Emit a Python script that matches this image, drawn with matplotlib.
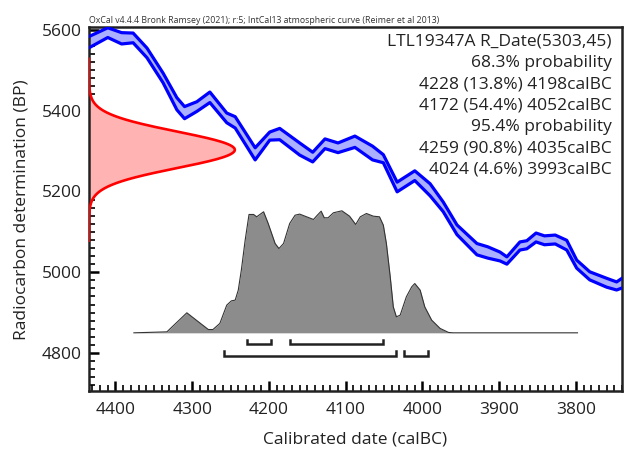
import numpy as np
import matplotlib
matplotlib.use("Agg")
import matplotlib.pyplot as plt
from matplotlib.ticker import MultipleLocator

plt.rcParams['font.family'] = ['Open Sans', 'DejaVu Sans']

# IntCal13 calibration curve (calBC, BP, 1 sigma)
curve_bc = [4435, 4410, 4392, 4377, 4359, 4338, 4320, 4310, 4294, 4277,
            4255, 4244, 4218, 4199, 4186, 4160, 4143, 4127, 4110, 4088,
            4065, 4051, 4033, 4010, 3990, 3973, 3955, 3929, 3915, 3899,
            3890, 3873, 3864, 3852, 3841, 3827, 3812, 3799, 3782, 3760,
            3747, 3740]
curve_bp = [5569, 5593, 5579, 5580, 5543, 5481, 5417, 5395, 5410, 5433,
            5382, 5371, 5293, 5337, 5342, 5305, 5285, 5318, 5308, 5323,
            5295, 5281, 5211, 5239, 5204, 5162, 5105, 5057, 5049, 5039,
            5029, 5065, 5068, 5086, 5079, 5081, 5067, 5020, 4991, 4974,
            4966, 4973]
curve_sig = [14, 12, 14, 12, 12, 12, 15, 15, 12, 13,
             12, 14, 15, 10, 14, 15, 12, 12, 12, 14,
             17, 10, 12, 12, 15, 12, 12, 14, 14, 11,
             9, 10, 10, 11, 11, 11, 12, 10, 10, 11,
             10, 12]

# radiocarbon measurement
r_name = "LTL19347A"
r_date = 5303
r_err = 45

# calibrated probability (relative to max)
prob_bc = [4376, 4333, 4307, 4279, 4273, 4264, 4255, 4249, 4244, 4240,
           4236, 4231, 4226, 4220, 4216, 4207, 4201, 4192, 4187, 4181,
           4173, 4166, 4160, 4142, 4137, 4132, 4128, 4123, 4116, 4105,
           4095, 4087, 4081, 4073, 4064, 4056, 4051, 4047, 4042, 4038,
           4034, 4029, 4021, 4014, 4010, 4003, 3997, 3988, 3977, 3966,
           3960, 3798]
prob = [0, 0.008, 0.164, 0.027, 0.027, 0.077, 0.227, 0.262, 0.268, 0.350,
        0.514, 0.760, 0.970, 0.970, 0.951, 0.992, 0.896, 0.732, 0.691, 0.732,
        0.896, 0.964, 0.973, 0.929, 0.964, 0.997, 0.943, 0.943, 0.984, 1.0,
        0.956, 0.888, 0.951, 0.978, 0.956, 0.951, 0.883, 0.732, 0.459, 0.213,
        0.131, 0.145, 0.295, 0.377, 0.404, 0.350, 0.213, 0.104, 0.036, 0.003,
        0, 0]

range68 = [(4228, 4198, 13.8), (4172, 4052, 54.4)]
range95 = [(4259, 4035, 90.8), (4024, 3993, 4.6)]

xmin, xmax = 4434.5, 3740
ymin, ymax = 4706, 5607

fig = plt.figure(figsize=(6.25, 4.54), dpi=100)
ax = fig.add_axes([89 / 625, 63 / 454, 533 / 625, 364 / 454])

# calibration curve band
cbc = np.array(curve_bc)
cbp = np.array(curve_bp)
csig = np.array(curve_sig)
ax.fill_between(cbc, cbp - csig, cbp + csig, color='#aab0ff', lw=0, zorder=2)
ax.plot(cbc, cbp + csig, color='#0000ff', lw=2.3, zorder=3)
ax.plot(cbc, cbp - csig, color='#0000ff', lw=2.3, zorder=3)

# radiocarbon date on the y axis
yy = np.linspace(r_date - 5 * r_err, r_date + 5 * r_err, 300)
g = np.exp(-0.5 * ((yy - r_date) / r_err) ** 2)
gx = xmin - 190 * g
ax.fill_betweenx(yy, xmin, gx, color='#ffb3b3', lw=0, zorder=2)
ax.plot(gx, yy, color='#ff0000', lw=1.9, zorder=3)

# calibrated distribution
base = 4850
ph = 302
pbc = np.array(prob_bc)
pp = base + np.array(prob) * ph
ax.fill_between(pbc, base, pp, color='#8c8c8c', lw=0, zorder=4)
ax.plot(pbc, pp, color='#333333', lw=0.8, zorder=5)

# range brackets
for rng, yb in [(range68, 4822), (range95, 4793)]:
    for lo, hi, pct in rng:
        ax.plot([lo, lo, hi, hi], [yb + 11, yb, yb, yb + 11],
                color='#222222', lw=1.8, solid_joinstyle='miter', zorder=5)

# text block
info_lines = [f"{r_name} R_Date({r_date},{r_err})", "68.3% probability"]
info_lines += [f"{lo} ({pct}%) {hi}calBC" for lo, hi, pct in range68]
info_lines += ["95.4% probability"]
info_lines += [f"{lo} ({pct}%) {hi}calBC" for lo, hi, pct in range95]
for i, line in enumerate(info_lines):
    ax.text(0.981, 0.959 - i * 0.0585, line, transform=ax.transAxes,
            ha='right', va='center', fontsize=12.5, color='#222222', zorder=6)

ax.text(0.0, 1.006, "OxCal v4.4.4 Bronk Ramsey (2021); r:5; IntCal13 atmospheric curve (Reimer et al 2013)",
        transform=ax.transAxes, ha='left', va='bottom', fontsize=6.3, color='#333333')

ax.set_xlim(xmin, xmax)
ax.set_ylim(ymin, ymax)
ax.xaxis.set_major_locator(MultipleLocator(100))
ax.xaxis.set_minor_locator(MultipleLocator(10))
ax.yaxis.set_major_locator(MultipleLocator(200))
ax.yaxis.set_minor_locator(MultipleLocator(20))
ax.tick_params(which='both', direction='in', labelsize=12.5, labelcolor='#222222')
ax.tick_params(which='major', length=7, width=1.8)
ax.tick_params(which='minor', length=4, width=1.2)
ax.tick_params(axis='x', pad=8)
ax.tick_params(axis='y', pad=5)
for sp in ax.spines.values():
    sp.set_linewidth(1.8)
    sp.set_color('#222222')

fig.text(22 / 625, (454 - 210) / 454, "Radiocarbon determination (BP)", rotation=90,
         ha='center', va='center', fontsize=12.5, color='#222222')
fig.text(355 / 625, (454 - 440) / 454, "Calibrated date (calBC)",
         ha='center', va='center', fontsize=12.5, color='#222222')

fig.savefig("out.png", dpi=100)
